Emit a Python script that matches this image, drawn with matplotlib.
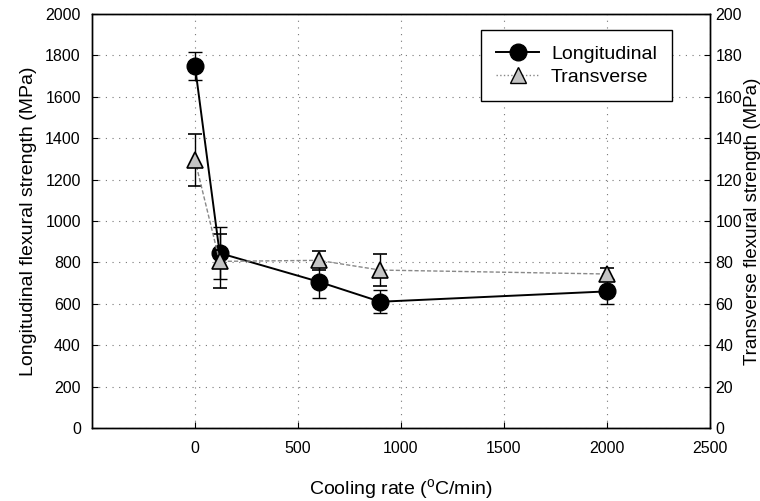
import matplotlib
matplotlib.use("Agg")
import matplotlib.pyplot as plt

plt.rcParams['font.family'] = ['Liberation Sans', 'DejaVu Sans']
plt.rcParams['mathtext.fontset'] = 'custom'
plt.rcParams['mathtext.rm'] = 'Liberation Sans'

cooling_rate = [0, 120, 600, 900, 2000]
longitudinal = [1750, 845, 707, 610, 660]
longitudinal_err = [68, 125, 80, 55, 60]
transverse = [129.5, 80.5, 81, 76.3, 74.4]
transverse_err = [12.5, 13, 4.5, 7.7, 2.8]

fig = plt.figure(figsize=(7.6, 5.01), dpi=100)
ax = fig.add_axes([0.121, 0.1457, 0.813, 0.8263])
ax2 = ax.twinx()

grid_kw = dict(color='#777777', linestyle=(0, (1, 5)), linewidth=0.8)
ax.set_xlim(-500, 2500)
ax.set_ylim(0, 2000)
ax.set_xticks([0, 500, 1000, 1500, 2000, 2500])
ax.set_yticks(range(0, 2001, 200))
ax.grid(True, **grid_kw)
ax2.set_ylim(0, 200)
ax2.set_yticks(range(0, 201, 20))

ax.errorbar(cooling_rate, longitudinal, yerr=longitudinal_err, color='black',
            marker='o', markersize=12, linewidth=1.4, capsize=5, elinewidth=1,
            capthick=1, zorder=5)
ax2.errorbar(cooling_rate, transverse, yerr=transverse_err, color='#888888',
             ecolor='black', marker='^', markersize=12, markerfacecolor='#c4c4c4',
             markeredgecolor='black', markeredgewidth=1.2,
             linestyle=(0, (3, 1.5)), linewidth=1, capsize=5, elinewidth=1,
             capthick=1, zorder=4)

for a in (ax, ax2):
    a.tick_params(direction='in', labelsize=11.5, length=4)
    for s in a.spines.values():
        s.set_linewidth(1)
ax.tick_params(axis='x', pad=9)
ax.tick_params(axis='y', pad=8)
ax2.tick_params(axis='y', pad=4)

ax.set_xlabel('Cooling rate ($^{\\mathrm{o}}$C/min)', fontsize=14, labelpad=16)
ax.set_ylabel('Longitudinal flexural strength (MPa)', fontsize=14, labelpad=6)
ax2.set_ylabel('Transverse flexural strength (MPa)', fontsize=13.5, labelpad=1)

h1 = plt.Line2D([], [], color='black', marker='o', markersize=12, linewidth=1.4)
h2 = plt.Line2D([], [], color='#888888', marker='^', markersize=12,
                markerfacecolor='#c4c4c4', markeredgecolor='black',
                linestyle=':', linewidth=1)
leg = ax2.legend([h1, h2], ['Longitudinal', 'Transverse'], loc='upper right',
                 bbox_to_anchor=(0.955, 0.985), fontsize=14, fancybox=False,
                 edgecolor='black', framealpha=1, handlelength=2.2,
                 borderpad=0.8, labelspacing=0.25, handletextpad=0.6)
leg.get_frame().set_linewidth(1)

fig.savefig('out.png', dpi=100)
